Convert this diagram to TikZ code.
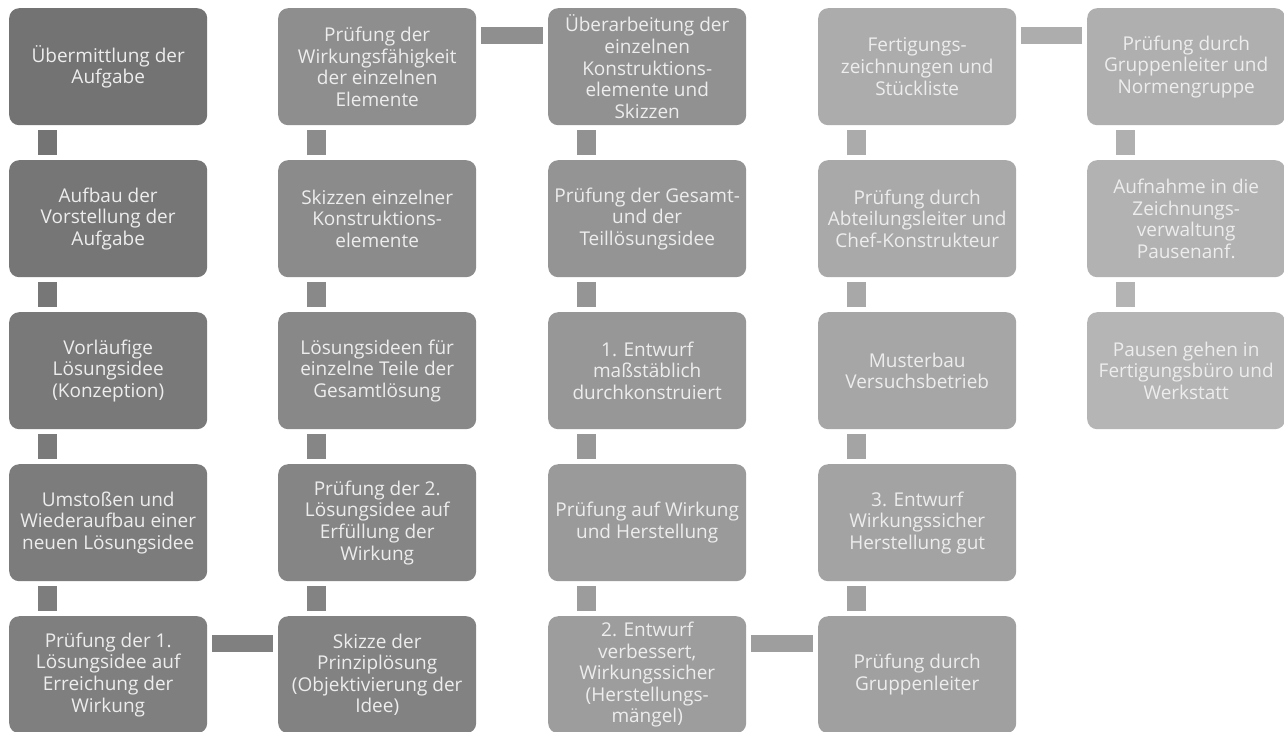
\documentclass[tikz,border=0pt]{standalone}
\usepackage{fontspec}
\setmainfont{Open Sans}
\begin{document}
\begin{tikzpicture}[x=1pt,y=-1pt,
  stepbox/.style={rounded corners=10pt, minimum width=198pt, minimum height=117pt,
    inner sep=0pt, anchor=north west, align=center, text=white!93!black,
    font=\fontsize{19}{21.6}\selectfont},
  vbar/.style={line width=19pt, shorten <=5pt, shorten >=5pt},
  hbar/.style={line width=17pt, shorten <=5pt, shorten >=5pt}]
\useasboundingbox (0,0) rectangle (1284,731);
\clip (0,0) rectangle (1284,731);
\fill[white] (0,0) rectangle (1284,731);

% column 1 (downwards)
\node[stepbox, fill=black!55]   (b1)  at (9,8)   {Übermittlung der\\Aufgabe};
\node[stepbox, fill=black!53.8] (b2)  at (9,160) {Aufbau der\\Vorstellung der\\Aufgabe};
\node[stepbox, fill=black!52.6] (b3)  at (9,312) {Vorläufige\\Lösungsidee\\(Konzeption)};
\node[stepbox, fill=black!51.5] (b4)  at (9,464) {Umstoßen und\\Wiederaufbau einer\\neuen Lösungsidee};
\node[stepbox, fill=black!50.3] (b5)  at (9,616) {Prüfung der 1.\\Lösungsidee auf\\Erreichung der\\Wirkung};
% column 2 (upwards)
\node[stepbox, fill=black!49.1] (b6)  at (278,616) {Skizze der\\Prinziplösung\\(Objektivierung der\\Idee)};
\node[stepbox, fill=black!47.9] (b7)  at (278,464) {Prüfung der 2.\\Lösungsidee auf\\Erfüllung der\\Wirkung};
\node[stepbox, fill=black!46.7] (b8)  at (278,312) {Lösungsideen für\\einzelne Teile der\\Gesamtlösung};
\node[stepbox, fill=black!45.5] (b9)  at (278,160) {Skizzen einzelner\\Konstruktions-\\elemente};
\node[stepbox, fill=black!44.4] (b10) at (278,8)   {Prüfung der\\Wirkungsfähigkeit\\der einzelnen\\Elemente};
% column 3 (downwards)
\node[stepbox, fill=black!43.2] (b11) at (548,8)   {Überarbeitung der\\einzelnen\\Konstruktions-\\elemente und\\Skizzen};
\node[stepbox, fill=black!42]   (b12) at (548,160) {Prüfung der Gesamt-\\und der\\Teillösungsidee};
\node[stepbox, fill=black!40.8] (b13) at (548,312) {1. Entwurf\\maßstäblich\\durchkonstruiert};
\node[stepbox, fill=black!39.6] (b14) at (548,464) {Prüfung auf Wirkung\\und Herstellung};
\node[stepbox, fill=black!38.5] (b15) at (548,616) {2. Entwurf\\verbessert,\\Wirkungssicher\\(Herstellungs-\\mängel)};
% column 4 (upwards)
\node[stepbox, fill=black!37.3] (b16) at (818,616) {Prüfung durch\\Gruppenleiter};
\node[stepbox, fill=black!36.1] (b17) at (818,464) {3. Entwurf\\Wirkungssicher\\Herstellung gut};
\node[stepbox, fill=black!34.9] (b18) at (818,312) {Musterbau\\Versuchsbetrieb};
\node[stepbox, fill=black!33.7] (b19) at (818,160) {Prüfung durch\\Abteilungsleiter und\\Chef-Konstrukteur};
\node[stepbox, fill=black!32.5] (b20) at (818,8)   {Fertigungs-\\zeichnungen und\\Stückliste};
% column 5 (downwards)
\node[stepbox, fill=black!31.4] (b21) at (1087,8)   {Prüfung durch\\Gruppenleiter und\\Normengruppe};
\node[stepbox, fill=black!30.2] (b22) at (1087,160) {Aufnahme in die\\Zeichnungs-\\verwaltung\\Pausenanf.};
\node[stepbox, fill=black!29]   (b23) at (1087,312) {Pausen gehen in\\Fertigungsbüro und\\Werkstatt};

% vertical links, downwards
\foreach \a/\b/\c in {b1/b2/54.4, b2/b3/53.2, b3/b4/52, b4/b5/50.9,
                      b11/b12/42.6, b12/b13/41.4, b13/b14/40.2, b14/b15/39,
                      b21/b22/30.8, b22/b23/29.6}
  \draw[vbar, black!\c] ([xshift=38.5pt]\a.south west) -- ([xshift=38.5pt]\b.north west);
% vertical links, upwards
\foreach \a/\b/\c in {b6/b7/48.5, b7/b8/47.3, b8/b9/46.1, b9/b10/45,
                      b16/b17/36.7, b17/b18/35.5, b18/b19/34.3, b19/b20/33.1}
  \draw[vbar, black!\c] ([xshift=38.5pt]\a.north west) -- ([xshift=38.5pt]\b.south west);
% horizontal links between columns
\foreach \a/\b/\c in {b5/b6/49.7, b10/b11/43.8, b15/b16/37.9, b20/b21/32}
  \draw[hbar, black!\c] ([yshift=-27.5pt]\a.north east) -- ([yshift=-27.5pt]\b.north west);
\end{tikzpicture}
\end{document}
